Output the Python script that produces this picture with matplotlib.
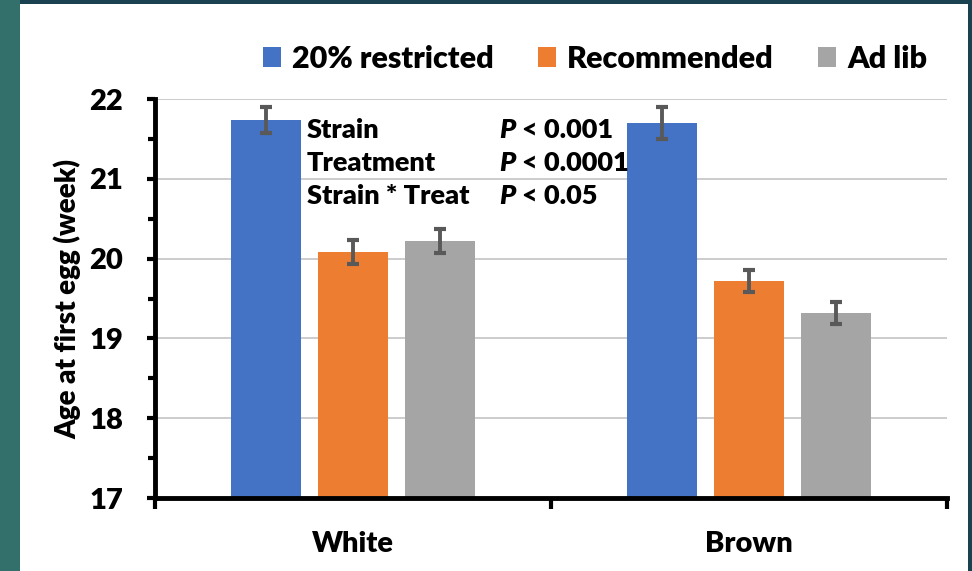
import matplotlib.pyplot as plt
import numpy as np
from matplotlib.patches import Patch, Rectangle

# Age at first egg by strain and feeding level
strains = ["White", "Brown"]
treatments = ["20% restricted", "Recommended", "Ad lib"]
restricted = [21.74, 21.70]
recommended = [20.08, 19.72]
ad_lib = [20.22, 19.32]
restricted_err = [0.16, 0.20]
recommended_err = [0.15, 0.14]
ad_lib_err = [0.15, 0.14]

stats_terms = ["Strain", "Treatment", "Strain * Treat"]
stats_p = ["< 0.001", "< 0.0001", "< 0.05"]

colors = ["#4472C4", "#ED7D31", "#A5A5A5"]
plt.rcParams["font.family"] = ["Lato", "DejaVu Sans"]
BOLD = "heavy"

fig = plt.figure(figsize=(9.72, 5.71), dpi=100)
fig.patch.set_facecolor("#1a4150")
# white slide panel over the dark background
fig.patches.append(Rectangle((0, 0), 0.0206, 1, transform=fig.transFigure,
                             facecolor="#33706b", edgecolor="none", zorder=-2))
fig.patches.append(Rectangle((0.0206, 0), 0.996 - 0.0206, 0.993,
                             transform=fig.transFigure, facecolor="white",
                             edgecolor="none", zorder=-2))

ax = fig.add_axes([0.1595, 0.1278, 0.8148, 0.6988])
ax.set_facecolor("none")

x = np.arange(len(strains))
width = 0.177
step = 0.22
series = [(restricted, restricted_err), (recommended, recommended_err), (ad_lib, ad_lib_err)]
for i, (vals, errs) in enumerate(series):
    ax.bar(x + (i - 1) * step, vals, width, bottom=0, color=colors[i], zorder=2,
           yerr=errs, error_kw=dict(ecolor="#595959", elinewidth=2.8, capsize=4,
                                    capthick=3, zorder=3))

ax.set_ylim(17, 22)
ax.set_xlim(-0.5, 1.5)

ax.yaxis.grid(True, color="#c8c8c8", linewidth=1.3, zorder=0)
ax.set_axisbelow(True)

for s in ["top", "right"]:
    ax.spines[s].set_visible(False)
for s in ["left", "bottom"]:
    ax.spines[s].set_linewidth(3.5)
    ax.spines[s].set_zorder(4)

ax.set_yticks(np.arange(17, 23, 1))
ax.set_yticks(np.arange(17.5, 22, 1), minor=True)
ax.tick_params(axis="y", which="major", length=6, width=3, pad=17, labelsize=21)
ax.tick_params(axis="y", which="minor", length=5, width=3)

# category boundaries get tick marks, labels sit in between
ax.set_xticks([-0.5, 0.5, 1.5])
ax.set_xticklabels([])
ax.set_xticks(x, minor=True)
ax.set_xticklabels(strains, minor=True)
ax.tick_params(axis="x", which="major", length=8, width=3)
ax.tick_params(axis="x", which="minor", length=0, pad=24, labelsize=21)
for lbl in ax.get_yticklabels() + ax.get_xticklabels(minor=True):
    lbl.set_fontweight(BOLD)

ax.set_ylabel("Age at first egg (week)", fontsize=20, fontweight=BOLD, labelpad=6)

# statistics block
for k, (term, p) in enumerate(zip(stats_terms, stats_p)):
    yy = 21.61 - k * 0.415
    ax.text(-0.116, yy, term, fontsize=19.5, fontweight=BOLD, va="center",
            ha="left", zorder=5)
    pt = ax.text(0.369, yy, "P", fontsize=19.5, fontweight=BOLD, style="italic",
                 va="center", ha="left", zorder=5)
    ax.annotate(p, xy=(1, 0.5), xycoords=pt, xytext=(5, 0),
                textcoords="offset points", fontsize=19.5, fontweight=BOLD,
                va="center", ha="left", zorder=5)

handles = [Patch(facecolor=c) for c in colors]
fig.legend(handles, treatments, loc="center", bbox_to_anchor=(0.612, 0.897),
           ncol=3, frameon=False, prop={"size": 22, "weight": BOLD},
           handlelength=0.6, handleheight=0.6, handletextpad=0.35,
           columnspacing=1.45)

plt.savefig("out.png", dpi=100, facecolor=fig.get_facecolor())
plt.close()
